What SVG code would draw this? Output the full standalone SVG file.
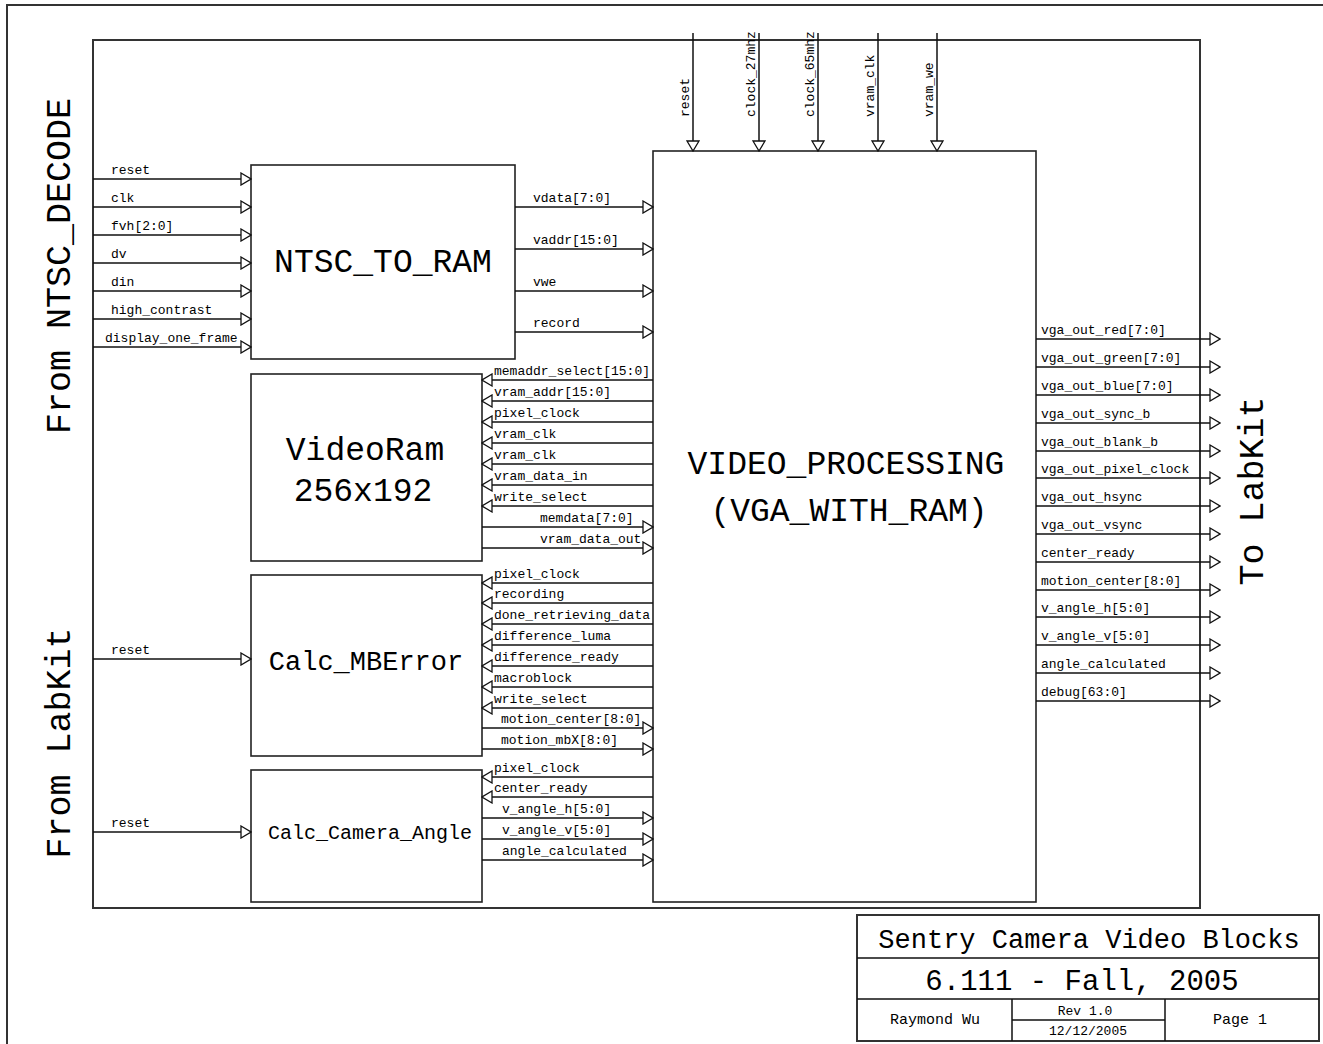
<svg xmlns="http://www.w3.org/2000/svg" width="1323" height="1044" viewBox="0 0 1323 1044">
<style>
.frame{fill:none;stroke:#333;stroke-width:2}
.blk{fill:#fff;stroke:#222;stroke-width:1.6}
.w{stroke:#111;stroke-width:1.5;fill:none}
.arr{marker-end:url(#tri)}
text{font-family:"Liberation Mono","DejaVu Sans Mono",monospace;fill:#000}
.s{font-size:13px}
.big{font-size:33px}
.side{font-size:35px}
.mid{text-anchor:middle}
.end{text-anchor:end}
</style>
<defs>
<marker id="tri" markerUnits="userSpaceOnUse" markerWidth="12" markerHeight="14" viewBox="-1 -1 12 14" refX="10" refY="6" orient="auto">
<path d="M0,0 L10,6 L0,12 Z" fill="#fff" stroke="#111" stroke-width="1.3"/>
</marker>
</defs>
<rect width="1323" height="1044" fill="#fff"/>
<rect class="frame" x="7" y="5" width="1400" height="1100"/>
<rect class="frame" x="93" y="40" width="1107" height="868"/>

<g id="side-labels">
<text class="side mid" transform="translate(70,266) rotate(-90)">From NTSC_DECODE</text>
<text class="side mid" transform="translate(70,743) rotate(-90)">From LabKit</text>
<text class="side mid" transform="translate(1263,491) rotate(-90)">To LabKit</text>
</g>

<g id="ntsc_to_ram">
<rect class="blk" x="251" y="165" width="264" height="194"/>
<text class="big mid" x="383" y="272">NTSC_TO_RAM</text>
</g>
<g id="videoram">
<rect class="blk" x="251" y="374" width="231" height="187"/>
<text class="big mid" x="365" y="460">VideoRam</text>
<text class="big mid" x="363" y="501">256x192</text>
</g>
<g id="calc_mberror">
<rect class="blk" x="251" y="575" width="231" height="181"/>
<text class="mid" style="font-size:27px" x="366" y="670">Calc_MBError</text>
</g>
<g id="calc_camera_angle">
<rect class="blk" x="251" y="770" width="231" height="132"/>
<text class="mid" style="font-size:20px" x="370" y="839">Calc_Camera_Angle</text>
</g>
<g id="video_processing">
<rect class="blk" x="653" y="151" width="383" height="751"/>
<text class="big mid" x="846" y="474">VIDEO_PROCESSING</text>
<text class="big mid" x="849" y="521">(VGA_WITH_RAM)</text>
</g>

<g id="connectors">
<!-- left inputs -->
<path class="w arr" d="M93,179H251"/><text class="s" x="111" y="174">reset</text>
<path class="w arr" d="M93,207H251"/><text class="s" x="111" y="202">clk</text>
<path class="w arr" d="M93,235H251"/><text class="s" x="111" y="230">fvh[2:0]</text>
<path class="w arr" d="M93,263H251"/><text class="s" x="111" y="258">dv</text>
<path class="w arr" d="M93,291H251"/><text class="s" x="111" y="286">din</text>
<path class="w arr" d="M93,319H251"/><text class="s" x="111" y="314">high_contrast</text>
<path class="w arr" d="M93,347H251"/><text class="s" x="105" y="342">display_one_frame</text>
<path class="w arr" d="M93,659H251"/><text class="s" x="111" y="654">reset</text>
<path class="w arr" d="M93,832H251"/><text class="s" x="111" y="827">reset</text>
<!-- NTSC outputs -->
<path class="w arr" d="M515,207H653"/><text class="s" x="533" y="202">vdata[7:0]</text>
<path class="w arr" d="M515,249H653"/><text class="s" x="533" y="244">vaddr[15:0]</text>
<path class="w arr" d="M515,291H653"/><text class="s" x="533" y="286">vwe</text>
<path class="w arr" d="M515,332H653"/><text class="s" x="533" y="327">record</text>
<!-- VideoRam -->
<path class="w arr" d="M653,380H482"/><text class="s" x="494" y="375">memaddr_select[15:0]</text>
<path class="w arr" d="M653,401H482"/><text class="s" x="494" y="396">vram_addr[15:0]</text>
<path class="w arr" d="M653,422H482"/><text class="s" x="494" y="417">pixel_clock</text>
<path class="w arr" d="M653,443H482"/><text class="s" x="494" y="438">vram_clk</text>
<path class="w arr" d="M653,464H482"/><text class="s" x="494" y="459">vram_clk</text>
<path class="w arr" d="M653,485H482"/><text class="s" x="494" y="480">vram_data_in</text>
<path class="w arr" d="M653,506H482"/><text class="s" x="494" y="501">write_select</text>
<path class="w arr" d="M482,527H653"/><text class="s" x="540" y="522">memdata[7:0]</text>
<path class="w arr" d="M482,548H653"/><text class="s" x="540" y="543">vram_data_out</text>
<!-- Calc_MBError -->
<path class="w arr" d="M653,583H482"/><text class="s" x="494" y="578">pixel_clock</text>
<path class="w arr" d="M653,603H482"/><text class="s" x="494" y="598">recording</text>
<path class="w arr" d="M653,624H482"/><text class="s" x="494" y="619">done_retrieving_data</text>
<path class="w arr" d="M653,645H482"/><text class="s" x="494" y="640">difference_luma</text>
<path class="w arr" d="M653,666H482"/><text class="s" x="494" y="661">difference_ready</text>
<path class="w arr" d="M653,687H482"/><text class="s" x="494" y="682">macroblock</text>
<path class="w arr" d="M653,708H482"/><text class="s" x="494" y="703">write_select</text>
<path class="w arr" d="M482,728H653"/><text class="s" x="501" y="723">motion_center[8:0]</text>
<path class="w arr" d="M482,749H653"/><text class="s" x="501" y="744">motion_mbX[8:0]</text>
<!-- Calc_Camera_Angle -->
<path class="w arr" d="M653,777H482"/><text class="s" x="494" y="772">pixel_clock</text>
<path class="w arr" d="M653,797H482"/><text class="s" x="494" y="792">center_ready</text>
<path class="w arr" d="M482,818H653"/><text class="s" x="502" y="813">v_angle_h[5:0]</text>
<path class="w arr" d="M482,839H653"/><text class="s" x="502" y="834">v_angle_v[5:0]</text>
<path class="w arr" d="M482,860H653"/><text class="s" x="502" y="855">angle_calculated</text>
<!-- top inputs -->
<path class="w arr" d="M693,33V151"/><text class="s" transform="translate(689,117) rotate(-90)">reset</text>
<path class="w arr" d="M759,33V151"/><text class="s" transform="translate(755,117) rotate(-90)">clock_27mhz</text>
<path class="w arr" d="M818,33V151"/><text class="s" transform="translate(814,117) rotate(-90)">clock_65mhz</text>
<path class="w arr" d="M878,33V151"/><text class="s" transform="translate(874,117) rotate(-90)">vram_clk</text>
<path class="w arr" d="M937,33V151"/><text class="s" transform="translate(933,117) rotate(-90)">vram_we</text>
<!-- right outputs -->
<path class="w arr" d="M1036,339H1220"/><text class="s" x="1041" y="334">vga_out_red[7:0]</text>
<path class="w arr" d="M1036,367H1220"/><text class="s" x="1041" y="362">vga_out_green[7:0]</text>
<path class="w arr" d="M1036,395H1220"/><text class="s" x="1041" y="390">vga_out_blue[7:0]</text>
<path class="w arr" d="M1036,423H1220"/><text class="s" x="1041" y="418">vga_out_sync_b</text>
<path class="w arr" d="M1036,451H1220"/><text class="s" x="1041" y="446">vga_out_blank_b</text>
<path class="w arr" d="M1036,478H1220"/><text class="s" x="1041" y="473">vga_out_pixel_clock</text>
<path class="w arr" d="M1036,506H1220"/><text class="s" x="1041" y="501">vga_out_hsync</text>
<path class="w arr" d="M1036,534H1220"/><text class="s" x="1041" y="529">vga_out_vsync</text>
<path class="w arr" d="M1036,562H1220"/><text class="s" x="1041" y="557">center_ready</text>
<path class="w arr" d="M1036,590H1220"/><text class="s" x="1041" y="585">motion_center[8:0]</text>
<path class="w arr" d="M1036,617H1220"/><text class="s" x="1041" y="612">v_angle_h[5:0]</text>
<path class="w arr" d="M1036,645H1220"/><text class="s" x="1041" y="640">v_angle_v[5:0]</text>
<path class="w arr" d="M1036,673H1220"/><text class="s" x="1041" y="668">angle_calculated</text>
<path class="w arr" d="M1036,701H1220"/><text class="s" x="1041" y="696">debug[63:0]</text>
</g>

<g id="title-block">
<rect class="frame" x="857" y="915" width="462" height="126"/>
<path class="w" d="M857,958H1319M857,999H1319M1012,999V1041M1165,999V1041M1012,1020H1165"/>
<text class="mid" style="font-size:27px" x="1089" y="948">Sentry Camera Video Blocks</text>
<text class="mid" style="font-size:29px" x="1082" y="990">6.111 - Fall, 2005</text>
<text class="mid" style="font-size:15px" x="935" y="1024">Raymond Wu</text>
<text class="s mid" x="1085" y="1015">Rev 1.0</text>
<text class="s mid" x="1088" y="1035">12/12/2005</text>
<text class="mid" style="font-size:15px" x="1240" y="1024">Page 1</text>
</g>
</svg>
